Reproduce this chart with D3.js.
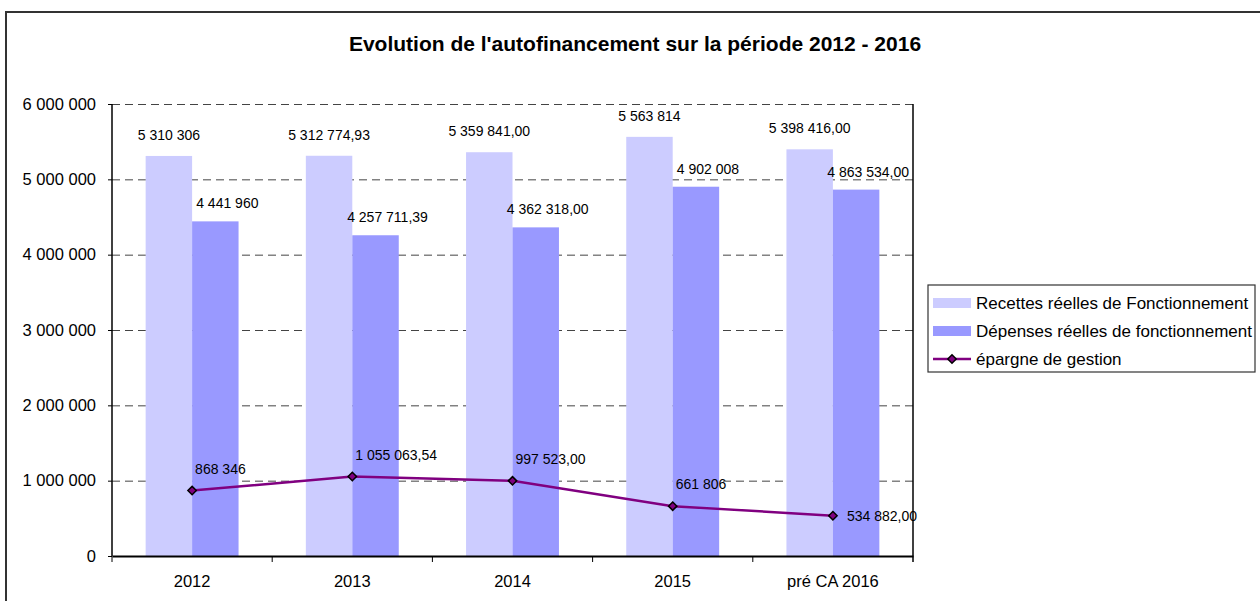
<!DOCTYPE html>
<html>
<head>
<meta charset="utf-8">
<script src="https://cdn.jsdelivr.net/npm/d3@7"></script>
<style>
  body { margin: 0; background: #fff; }
  text { font-family: "Liberation Sans", Arial, sans-serif; fill: #000; }
</style>
</head>
<body>
<svg id="chart" width="1260" height="601"></svg>
<script>
// data
var categories = ["2012", "2013", "2014", "2015", "pré CA 2016"];
var recettes = [5310306, 5312774.93, 5359841.00, 5563814, 5398416.00];
var depenses = [4441960, 4257711.39, 4362318.00, 4902008, 4863534.00];
var epargne = [868346, 1055063.54, 997523.00, 661806, 534882.00];
var recettesLabels = ["5 310 306", "5 312 774,93", "5 359 841,00", "5 563 814", "5 398 416,00"];
var depensesLabels = ["4 441 960", "4 257 711,39", "4 362 318,00", "4 902 008", "4 863 534,00"];
var epargneLabels = ["868 346", "1 055 063,54", "997 523,00", "661 806", "534 882,00"];
var yTicks = [0, 1000000, 2000000, 3000000, 4000000, 5000000, 6000000];
var seriesNames = ["Recettes réelles de Fonctionnement", "Dépenses réelles de fonctionnement", "épargne de gestion"];

//-----------------------------------------------------------------------

var svg = d3.select("#chart");
var plotLeft = 112, plotRight = 913, plotTop = 104, plotBottom = 556;
var colLight = "#ccccff", colDark = "#9999ff", colLine = "#800080";

// outer frame
svg.append("rect")
  .attr("x", 6).attr("y", 12)
  .attr("width", 1300).attr("height", 700)
  .attr("fill", "none").attr("stroke", "#333").attr("stroke-width", 2);

svg.append("text")
  .attr("x", 635).attr("y", 51)
  .attr("text-anchor", "middle")
  .style("font-size", "21px").style("font-weight", "bold")
  .text("Evolution de l'autofinancement sur la période 2012 - 2016");

var x = d3.scaleBand().domain(categories).range([plotLeft, plotRight]);
var y = d3.scaleLinear().domain([0, 6000000]).range([plotBottom, plotTop]);
var bw = x.bandwidth() * 0.29;

// dashed gridlines
svg.append("g").selectAll("line")
  .data(yTicks.filter(function (d) { return d > 0; }))
  .enter().append("line")
  .attr("x1", plotLeft).attr("x2", plotRight)
  .attr("y1", function (d) { return y(d) + 0.5; })
  .attr("y2", function (d) { return y(d) + 0.5; })
  .attr("stroke", "#444").attr("stroke-dasharray", "8,5");

// bars
svg.append("g").selectAll("rect")
  .data(recettes).enter().append("rect")
  .attr("x", function (d, i) { return x(categories[i]) + x.bandwidth() / 2 - bw; })
  .attr("y", function (d) { return y(d); })
  .attr("width", bw)
  .attr("height", function (d) { return plotBottom - y(d); })
  .attr("fill", colLight);

svg.append("g").selectAll("rect")
  .data(depenses).enter().append("rect")
  .attr("x", function (d, i) { return x(categories[i]) + x.bandwidth() / 2; })
  .attr("y", function (d) { return y(d); })
  .attr("width", bw)
  .attr("height", function (d) { return plotBottom - y(d); })
  .attr("fill", colDark);

// bar labels
svg.append("g").selectAll("text")
  .data(recettes).enter().append("text")
  .attr("x", function (d, i) { return x(categories[i]) + x.bandwidth() / 2 - bw / 2; })
  .attr("y", function (d) { return y(d) - 16; })
  .attr("text-anchor", "middle")
  .style("font-size", "14px")
  .text(function (d, i) { return recettesLabels[i]; });

svg.append("g").selectAll("text")
  .data(depenses).enter().append("text")
  .attr("x", function (d, i) { return x(categories[i]) + x.bandwidth() / 2 + bw / 2 + 12; })
  .attr("y", function (d) { return y(d) - 13; })
  .attr("text-anchor", "middle")
  .style("font-size", "14px")
  .text(function (d, i) { return depensesLabels[i]; });

// line
var line = d3.line()
  .x(function (d, i) { return x(categories[i]) + x.bandwidth() / 2; })
  .y(function (d) { return y(d); });

svg.append("path")
  .datum(epargne)
  .attr("d", line)
  .attr("fill", "none").attr("stroke", colLine).attr("stroke-width", 2.5);

var diamond = d3.symbol().type(d3.symbolDiamond2).size(45);
svg.append("g").selectAll("path")
  .data(epargne).enter().append("path")
  .attr("transform", function (d, i) {
    return "translate(" + (x(categories[i]) + x.bandwidth() / 2) + "," + y(d) + ")";
  })
  .attr("d", diamond)
  .attr("fill", colLine).attr("stroke", "#000").attr("stroke-width", 1.5);

svg.append("g").selectAll("text")
  .data(epargne).enter().append("text")
  .attr("x", function (d, i) {
    var cx = x(categories[i]) + x.bandwidth() / 2;
    return i == epargne.length - 1 ? cx + 14 : cx + 3;
  })
  .attr("y", function (d, i) { return i == epargne.length - 1 ? y(d) + 5 : y(d) - 17; })
  .style("font-size", "14px")
  .text(function (d, i) { return epargneLabels[i]; });

// axes
var yAxis = d3.axisLeft(y).tickValues(yTicks).tickSize(4).tickPadding(12)
  .tickFormat(function (d) { return d3.format(",")(d).replace(/,/g, " "); });
var gy = svg.append("g").attr("transform", "translate(" + plotLeft + ",0)").call(yAxis);
gy.select(".domain").remove();
gy.selectAll("text").style("font-size", "16.5px").attr("font-family", null);

svg.append("line")
  .attr("x1", plotLeft).attr("x2", plotLeft).attr("y1", plotTop).attr("y2", plotBottom)
  .attr("stroke", "#000").attr("stroke-width", 1.5);
svg.append("line")
  .attr("x1", plotRight).attr("x2", plotRight).attr("y1", plotTop).attr("y2", plotBottom + 6)
  .attr("stroke", "#000").attr("stroke-width", 1.5);

var xAxis = d3.axisBottom(x).tickSize(0).tickPadding(19);
var gx = svg.append("g").attr("transform", "translate(0," + plotBottom + ")").call(xAxis);
gx.select(".domain").attr("stroke-width", 2);
gx.selectAll("text").style("font-size", "16.5px").attr("font-family", null);

svg.append("g").selectAll("line")
  .data(categories).enter().append("line")
  .attr("x1", function (d) { return x(d); }).attr("x2", function (d) { return x(d); })
  .attr("y1", plotBottom).attr("y2", plotBottom + 6)
  .attr("stroke", "#000");

// legend
var lg = svg.append("g").attr("transform", "translate(928,285)");
lg.append("rect").attr("width", 327).attr("height", 87)
  .attr("fill", "#fff").attr("stroke", "#333").attr("stroke-width", 1.2);
var rows = lg.selectAll("g").data(seriesNames).enter().append("g")
  .attr("transform", function (d, i) { return "translate(0," + (18 + i * 28) + ")"; });
rows.filter(function (d, i) { return i < 2; }).append("rect")
  .attr("x", 5).attr("y", -5).attr("width", 38).attr("height", 10)
  .attr("fill", function (d, i) { return i == 0 ? colLight : colDark; });
rows.filter(function (d, i) { return i == 2; }).each(function () {
  var r = d3.select(this);
  r.append("line").attr("x1", 5).attr("x2", 43).attr("stroke", colLine).attr("stroke-width", 2.5);
  r.append("path").attr("transform", "translate(24,0)").attr("d", diamond)
    .attr("fill", colLine).attr("stroke", "#000").attr("stroke-width", 1.5);
});
rows.append("text").attr("x", 48).attr("dy", "0.35em")
  .style("font-size", "17px")
  .text(function (d) { return d; });
</script>
</body>
</html>
